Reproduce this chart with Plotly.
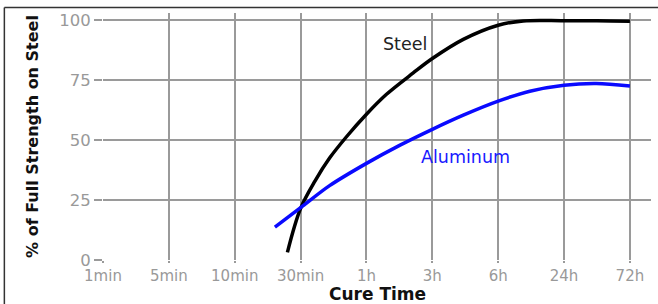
import plotly.graph_objects as go

# Category tick labels (equally spaced positions 0..8)
tick_labels = ["1min", "5min", "10min", "30min", "1h", "3h", "6h", "24h", "72h"]
y_ticks = [0, 25, 50, 75, 100]

# Steel curve (x in category-index units, y in %)
steel_x = [2.80, 3.0, 3.22, 3.44, 3.70, 4.0, 4.30, 4.71, 5.0, 5.47, 6.0, 6.38, 7.0, 7.5, 8.0]
steel_y = [3.2, 21.5, 33.0, 42.5, 51.5, 60.8, 69.0, 78.0, 84.0, 92.0, 97.9, 99.7, 99.8, 99.8, 99.6]

# Aluminum curve
alu_x = [2.61, 3.0, 3.44, 4.0, 4.51, 5.0, 5.47, 6.0, 6.48, 7.0, 7.49, 8.0]
alu_y = [13.7, 21.8, 31.0, 40.3, 47.9, 54.5, 60.4, 66.25, 70.4, 72.9, 73.6, 72.6]

FONT = "DejaVu Sans"
GRID = "#9a9a9a"
TICKC = "#999999"

fig = go.Figure()
fig.add_trace(go.Scatter(x=steel_x, y=steel_y, mode="lines",
                         line=dict(color="#000000", width=3.5, shape="spline", smoothing=1.0),
                         showlegend=False, hoverinfo="skip"))
fig.add_trace(go.Scatter(x=alu_x, y=alu_y, mode="lines",
                         line=dict(color="#0a0aff", width=3.5, shape="spline", smoothing=0.9),
                         showlegend=False, hoverinfo="skip"))

fig.add_annotation(x=4.59, y=90.2, text="Steel", showarrow=False,
                   font=dict(family=FONT, size=17.5, color="#222222"))
fig.add_annotation(x=5.51, y=43.1, text="Aluminum", showarrow=False,
                   font=dict(family=FONT, size=17.5, color="#1a1aff"))

# X-axis title placed as annotation below the tick labels
fig.add_annotation(xref="paper", yref="paper", x=0.5, y=-0.186, yanchor="bottom",
                   text="<b>Cure Time</b>", showarrow=False,
                   font=dict(family=FONT, size=17, color="#111111"))

# Outer frame (top and left lines)
fig.add_shape(type="line", xref="paper", yref="paper", x0=-0.18, x1=1.02, y0=1.022, y1=1.022,
              line=dict(color="#333333", width=1.5))
fig.add_shape(type="line", xref="paper", yref="paper", x0=-0.18, x1=-0.18, y0=1.022, y1=-0.2,
              line=dict(color="#333333", width=1.5))

fig.update_xaxes(range=[0, 8.32], tickvals=list(range(len(tick_labels))), ticktext=tick_labels,
                 showgrid=True, gridcolor=GRID, gridwidth=1.5, zeroline=False,
                 ticks="outside", ticklen=2, tickcolor=GRID, tickwidth=1.5,
                 showline=False, automargin=False,
                 tickfont=dict(family=FONT, size=15, color=TICKC))
fig.update_yaxes(range=[0, 103], tickvals=y_ticks,
                 showgrid=True, gridcolor=GRID, gridwidth=1.5, zeroline=False,
                 ticks="outside", ticklen=8, tickcolor=GRID, tickwidth=1.5,
                 showline=False, automargin=False,
                 tickfont=dict(family=FONT, size=16.5, color=TICKC),
                 title=dict(text="<b>% of Full Strength on Steel</b>",
                            font=dict(family=FONT, size=16, color="#111111"), standoff=16))

fig.update_layout(width=658, height=304, margin=dict(l=103, r=7, t=13, b=44),
                  paper_bgcolor="white", plot_bgcolor="white")

fig.write_html("out.html", config={"displayModeBar": False},
               post_script="document.body.style.margin='0px';")
